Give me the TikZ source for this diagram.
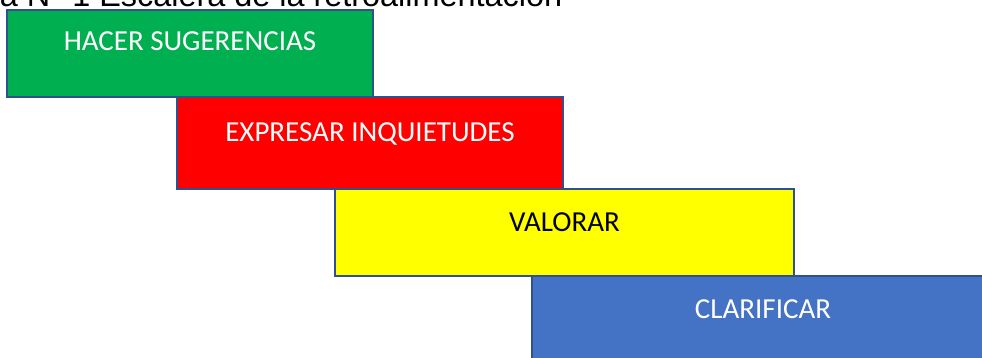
\documentclass[tikz,border=0pt]{standalone}
\usepackage{fontspec}
\setmainfont{Carlito}
\newfontfamily\titlefont{Liberation Sans}
\usepackage{tikz}
\usetikzlibrary{shapes}

\definecolor{borde}{HTML}{2F528F}
\definecolor{verde}{HTML}{00B050}
\definecolor{rojo}{HTML}{FF0000}
\definecolor{amarillo}{HTML}{FFFF00}
\definecolor{azul}{HTML}{4472C4}

\tikzset{
every picture/.style={
line width=1.6pt
}}

\begin{document}
\begin{tikzpicture}[x=1pt, y=-1pt,
escalon/.style = {rectangle, draw=borde, inner sep=0pt, font=\fontsize{29}{35}\selectfont}]

\useasboundingbox (0,0) rectangle (982,358);
\clip (0,0) rectangle (982,358);

\node[anchor=base east, inner sep=0pt, font=\titlefont\fontsize{32.4}{38}\selectfont] (titulo) at (563,7) {Figura N° 1 Escalera de la retroalimentación};

\node[escalon, fill=verde, text=white, minimum width=366pt, text height=41pt, text depth=46pt] (sug) at (190,53.5) {HACER SUGERENCIAS};
\node[escalon, fill=rojo, text=white, minimum width=386pt, text height=45pt, text depth=47pt] (inq) at (370,143) {EXPRESAR INQUIETUDES};
\node[escalon, fill=amarillo, text=black, minimum width=459pt, text height=42pt, text depth=45pt] (val) at (564.5,232.5) {VALORAR};
\node[escalon, fill=azul, text=white, minimum width=462pt, text height=42pt, text depth=45pt] (cla) at (763,319.5) {CLARIFICAR};
\end{tikzpicture}
\end{document}
